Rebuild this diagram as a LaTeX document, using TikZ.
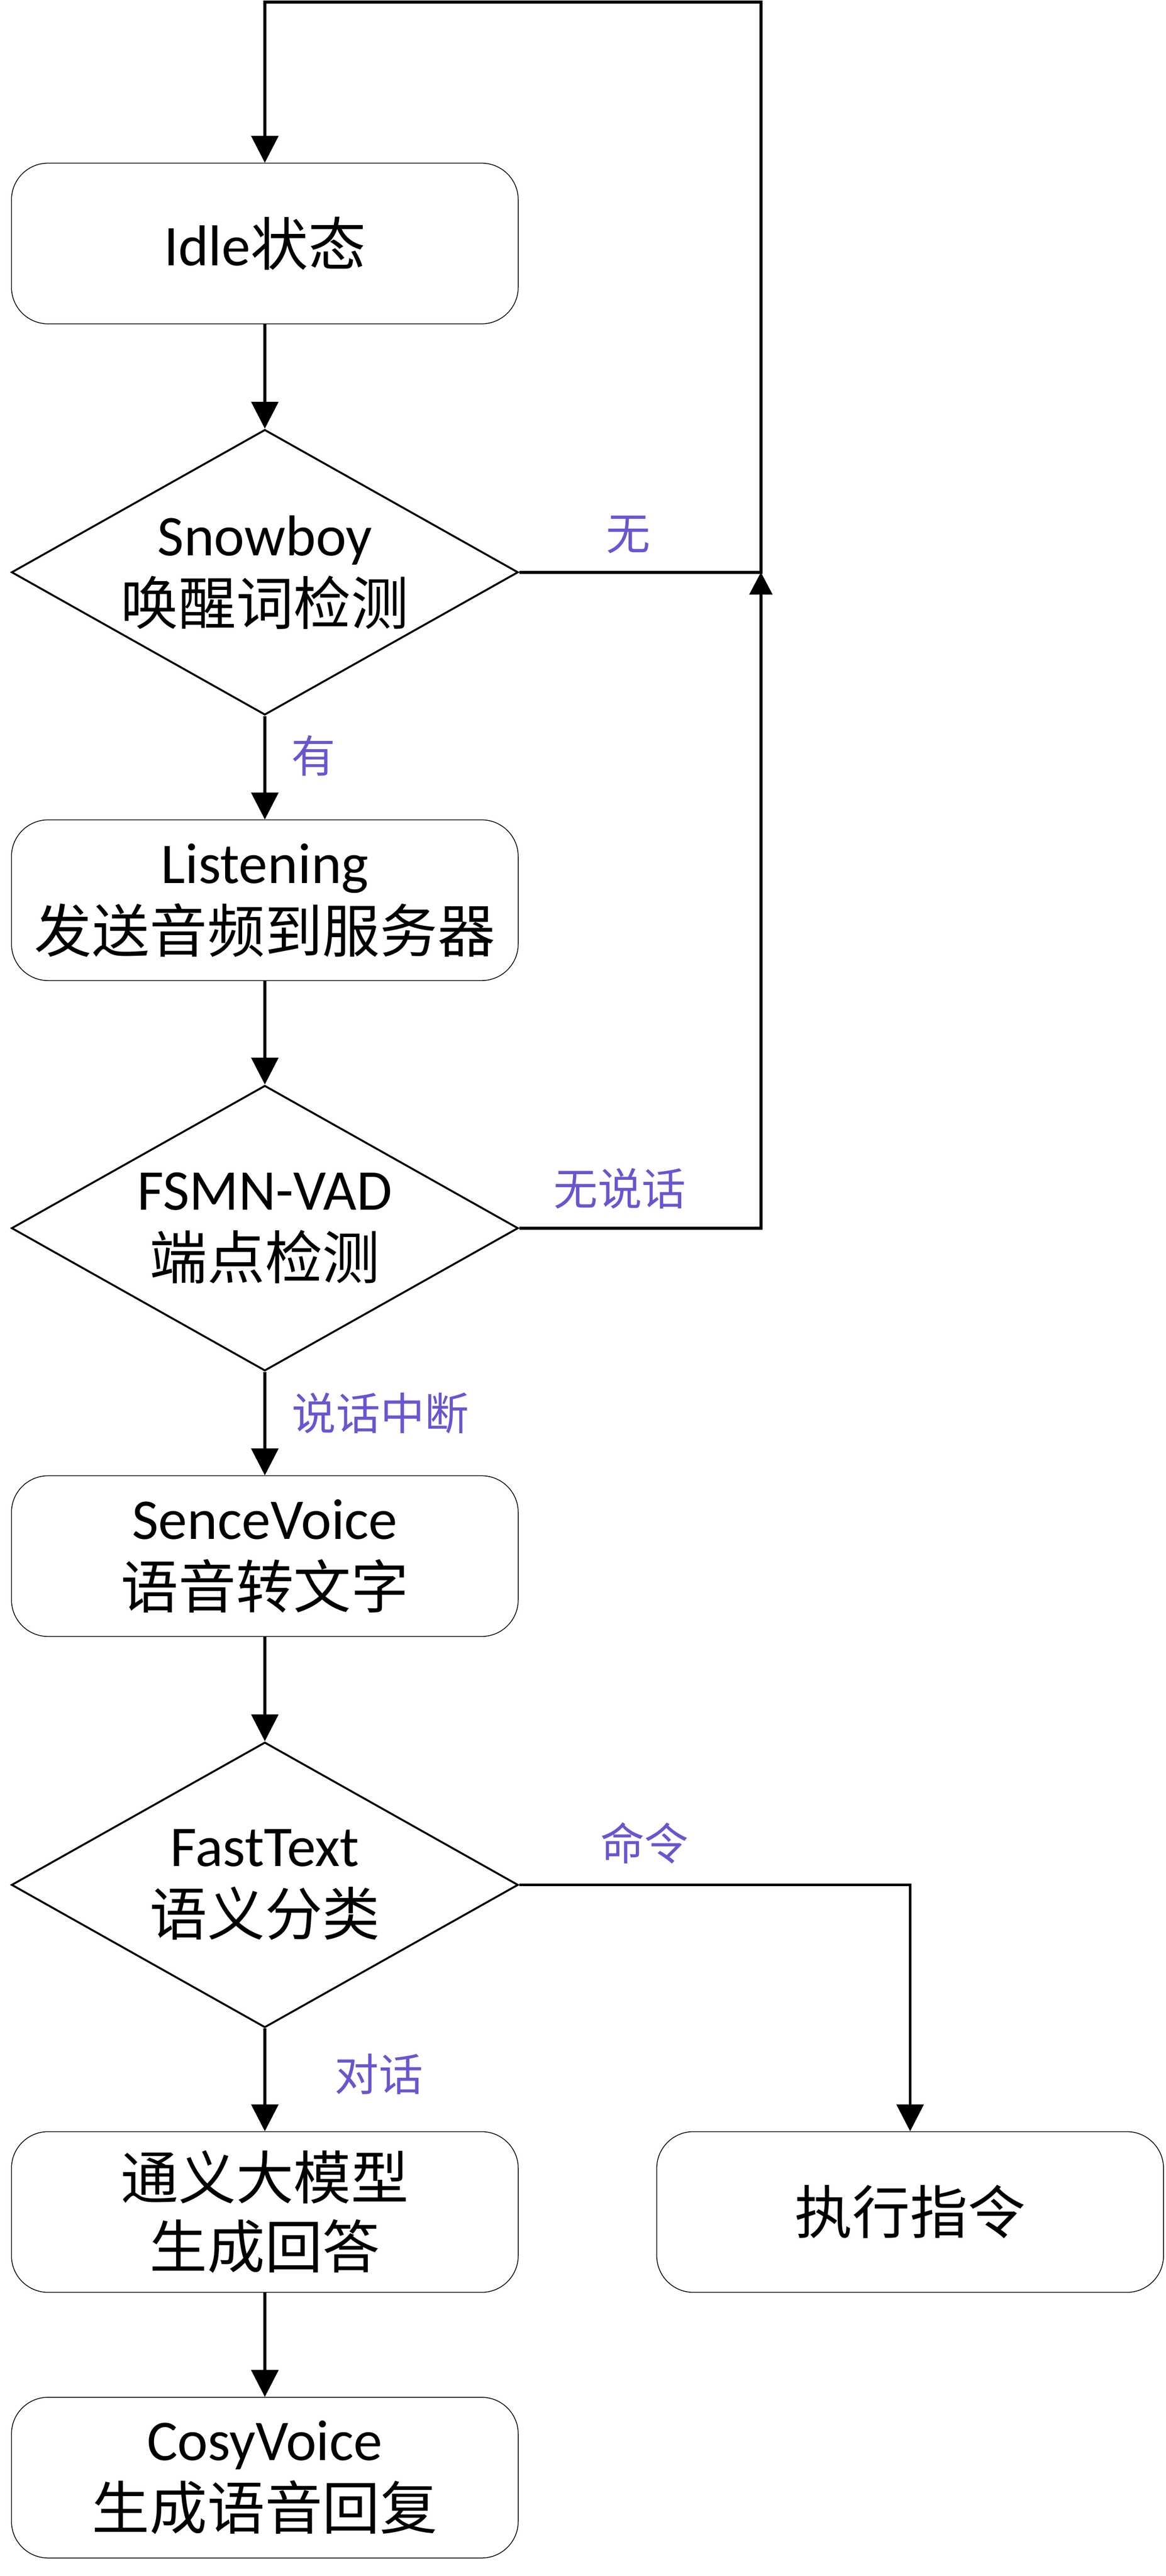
\documentclass[tikz,border=0pt]{standalone}
\usepackage{fontspec}
\setmainfont{Carlito}
\newfontfamily\cjk{Noto Sans CJK SC}
\newcommand{\zh}[1]{{\cjk #1}}
\usetikzlibrary{shapes.geometric}
\usetikzlibrary{arrows.meta}
\usetikzlibrary{positioning}
\definecolor{lblblue}{HTML}{6A55D0}

\begin{document}
\begin{tikzpicture}[x=0.03cm,y=-0.03cm,
  txt/.style={align=center,font=\fontsize{30}{36}\selectfont},
  etat/.style={draw,rectangle,rounded corners=0.67cm,minimum width=9.27cm,minimum height=2.94cm,line width=0.4pt,txt},
  test/.style={draw,diamond,minimum width=9.27cm,minimum height=5.22cm,inner sep=0pt,line width=1pt},
  fleche/.style={line width=1.5pt,-{Triangle[length=14pt,width=14pt]}},
  petite/.style={line width=1.5pt,-{Triangle[length=11.6pt,width=11.8pt]}},
  lbl/.style={text=lblblue,font=\cjk\fontsize{23}{23}\selectfont,inner sep=0pt}]
\useasboundingbox (0,0) rectangle (711,1571);

% Les etats et les tests
\node[etat] (idle) at (161.5,148.5) {Idle\zh{状态}};
\node[test,label={[txt]center:{Snowboy\\ \zh{唤醒词检测}}}] (snow) at (161.5,349) {};
\node[etat] (listen) at (161.5,549) {Listening\\ \zh{发送音频到服务器}};
\node[test,label={[txt]center:{FSMN-VAD\\ \zh{端点检测}}}] (vad) at (161.5,749) {};
\node[etat] (asr) at (161.5,949) {SenceVoice\\ \zh{语音转文字}};
\node[test,label={[txt]center:{FastText\\ \zh{语义分类}}}] (fast) at (161.5,1149.5) {};
\node[etat] (llm) at (161.5,1349) {\zh{通义大模型}\\ \zh{生成回答}};
\node[etat] (exec) at (555,1349) {\zh{执行指令}};
\node[etat] (tts) at (161.5,1511) {CosyVoice\\ \zh{生成语音回复}};

% Points de retour
\coordinate (j1) at (464,349);
\coordinate (j2) at (464,749);
\coordinate (h1) at (464,1.2);
\coordinate (h2) at (161.5,1.2);
\coordinate (c1) at (555,1149.5);

% Fleches principales
\draw[fleche] (idle) -- (snow);
\draw[fleche] (snow) -- (listen);
\draw[fleche] (listen) -- (vad);
\draw[fleche] (vad) -- (asr);
\draw[fleche] (asr) -- (fast);
\draw[fleche] (fast) -- (llm);
\draw[fleche] (llm) -- (tts);

% Boucles et branche commande
\draw[fleche] (snow.east) -- (j1) -- (h1) -- (h2) -- (idle.north);
\draw[petite] (vad.east) -- (j2) -- (j1);
\draw[fleche] (fast.east) -- (c1) -- (exec.north);

% Etiquettes
\node[lbl] (l1) at (383,326) {无};
\node[lbl] (l2) at (191,461) {有};
\node[lbl] (l3) at (378,725) {无说话};
\node[lbl] (l4) at (232,862) {说话中断};
\node[lbl] (l5) at (393,1124) {命令};
\node[lbl] (l6) at (231,1265) {对话};
\end{tikzpicture}
\end{document}
